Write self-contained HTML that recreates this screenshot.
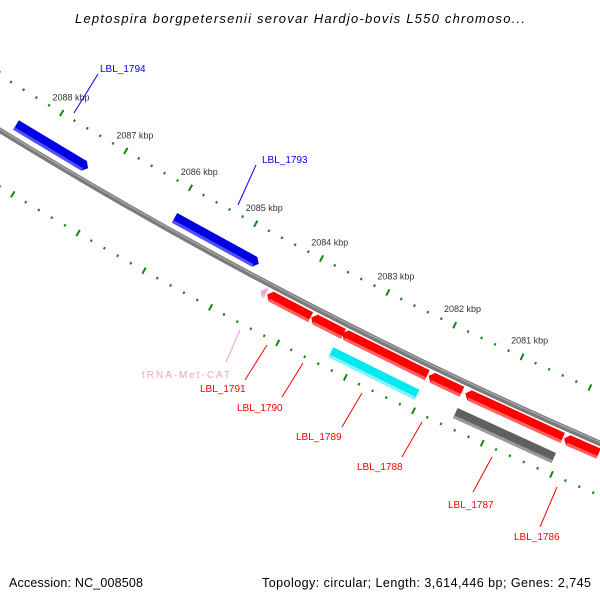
<!DOCTYPE html>
<html><head><meta charset="utf-8"><style>
body{margin:0;background:#fff}
svg{display:block;font-family:"Liberation Sans",sans-serif}
</style></head><body>
<svg id="c" width="600" height="600" viewBox="0 0 600 600">
<rect width="600" height="600" fill="#fff"/>
<text x="75" y="23" textLength="450" lengthAdjust="spacing" font-size="13" font-style="italic" fill="#000">Leptospira borgpetersenii serovar Hardjo-bovis L550 chromoso...</text>
<g id="plot"></g>
<text x="9" y="587" textLength="134" lengthAdjust="spacing" font-size="12.5" fill="#000">Accession: NC_008508</text>
<text x="262" y="587" textLength="329" lengthAdjust="spacing" font-size="12.5" fill="#000">Topology: circular; Length: 3,614,446 bp; Genes: 2,745</text>
</svg>
<script>
// feature data (kbp)
const featNames=["LBL_1794","LBL_1793","tRNA","LBL_1791","LBL_1790","LBL_1789","LBL_1788","LBL_1787","LBL_1786","cyan-feature","gray-feature"];
const featStart=[2087.32,2084.71,2084.44,2083.77,2083.28,2082.04,2081.53,2080.06,2079.54,2082.05,2080.06];
const featEnd=[2088.44,2085.99,2084.52,2084.42,2083.76,2083.30,2082.02,2081.48,2080.04,2083.32,2081.49];
const featRow=[0,0,1,1,1,1,1,1,1,2,2];
const featColor=["#0000e0","#0000e0","#f4a8cc","#ff0000","#ff0000","#ff0000","#ff0000","#ff0000","#ff0000","#00e8f0","#606060"];
const featLight=["#5050ff","#5050ff","#f8c8e0","#ff6060","#ff6060","#ff6060","#ff6060","#ff6060","#ff6060","#80f4f8","#9a9a9a"];
const featArrow=["end","end","start","start","start","start","start","start","start","none","none"];
const tickLabels=[2081,2082,2083,2084,2085,2086,2087,2088];
const labelTexts=["LBL_1794","LBL_1793","tRNA-Met-CAT","LBL_1791","LBL_1790","LBL_1789","LBL_1788","LBL_1787","LBL_1786"];
const labelColors=["#0000ff","#0000ff","#f4a0c8","#ff0000","#ff0000","#ff0000","#ff0000","#ff0000","#ff0000"];
const labelX=[100,262,142,200,237,296,357,448,514];
const labelY=[72,163,378,392,411,440,470,508,540];
const lineFrom=[[98,74],[256,165],[240,330],[245,380],[282,397],[342,427],[402,457],[473,492],[540,527]];
const lineTo=[[74,113],[238,205],[226,362],[267,345],[303,363],[362,393],[422,422],[492,457],[557,487]];

const CX=2508,CY=-3947,RB=4787;
const rowR=[4774,4797,4819];
const NS="http://www.w3.org/2000/svg";
const plot=document.getElementById('plot');
function ang(k){return (121.07-(2088-k)*0.9)*Math.PI/180;}
function pt(k,r){const a=ang(k);return [CX+r*Math.cos(a),CY+r*Math.sin(a)];}
function mk(t,attrs){const e=document.createElementNS(NS,t);for(const k in attrs)e.setAttribute(k,attrs[k]);plot.appendChild(e);return e;}
function arcPath(k1,k2,r){const a=pt(k1,r),b=pt(k2,r);return `M${a[0]},${a[1]} A${r},${r} 0 0 0 ${b[0]},${b[1]}`;}

// ticks
for(let i=0;i<=50;i++){
  const k=2079.2+i*0.2;
  const major=Math.abs(k-Math.round(k))<0.01;
  const len=major?7:2.5;
  [4740,4835].forEach((R,j)=>{
    const a=pt(k,R-len/2),b=pt(k,R+len/2);
    const l=mk('line',{x1:a[0],y1:a[1],x2:b[0],y2:b[1],stroke:'#118811','stroke-width':2});
    
    
  });
}
tickLabels.forEach(k=>{
  const p=pt(k,4722);
  const t=mk('text',{x:p[0],y:p[1]+3,'font-size':9,'text-anchor':'middle',fill:'#333'});
  t.textContent=k+' kbp';
  
  
});
// backbone
let bb=mk('path',{d:arcPath(2089.5,2079,RB),stroke:'#7a7a7a','stroke-width':5.5,fill:'none'});


let bb2=mk('path',{d:arcPath(2089.5,2079,RB-1),stroke:'#a8a8a8','stroke-width':1.2,fill:'none'});


// features
featNames.forEach((n,i)=>{
  const r=rowR[featRow[i]],h=5.5;
  const s=featEnd[i],e=featStart[i];
  const ah=0.06;
  let d;
  const A=pt(s,r-h),B=pt(e,r-h),C=pt(e,r+h),D=pt(s,r+h);
  if(featArrow[i]==='end'){
    const B2=pt(e+ah,r-h),C2=pt(e+ah,r+h),T=pt(e,r);
    d=`M${A} L${B2} L${T} L${C2} L${D} Z`;
  }else if(featArrow[i]==='start'){
    const A2=pt(s-ah,r-h),D2=pt(s-ah,r+h),T=pt(s,r);
    d=`M${A2} L${B} L${C} L${D2} L${T} Z`;
  }else d=`M${A} L${B} L${C} L${D} Z`;
  const p=mk('path',{d:d,fill:featColor[i]});
  
  
  const sa=s-(featArrow[i]==='start'?ah:0), ea=e+(featArrow[i]==='end'?ah:0);
  const L1=pt(sa,r+h-3),L2=pt(ea,r+h-3),L3=pt(ea,r+h),L4=pt(sa,r+h);
  const q=mk('path',{d:`M${L1} L${L2} L${L3} L${L4} Z`,fill:featLight[i]});
  
  
});
// labels
labelTexts.forEach((t,i)=>{
  const l=mk('line',{x1:lineFrom[i][0],y1:lineFrom[i][1],x2:lineTo[i][0],y2:lineTo[i][1],stroke:labelColors[i],'stroke-width':1});
  
  
  const tx=mk('text',{x:labelX[i],y:labelY[i],'font-size':10,fill:labelColors[i]});
  if(t.length>9){tx.setAttribute('textLength',88);tx.setAttribute('lengthAdjust','spacing');}
  tx.textContent=t;
  
  
});
</script>
</body></html>
